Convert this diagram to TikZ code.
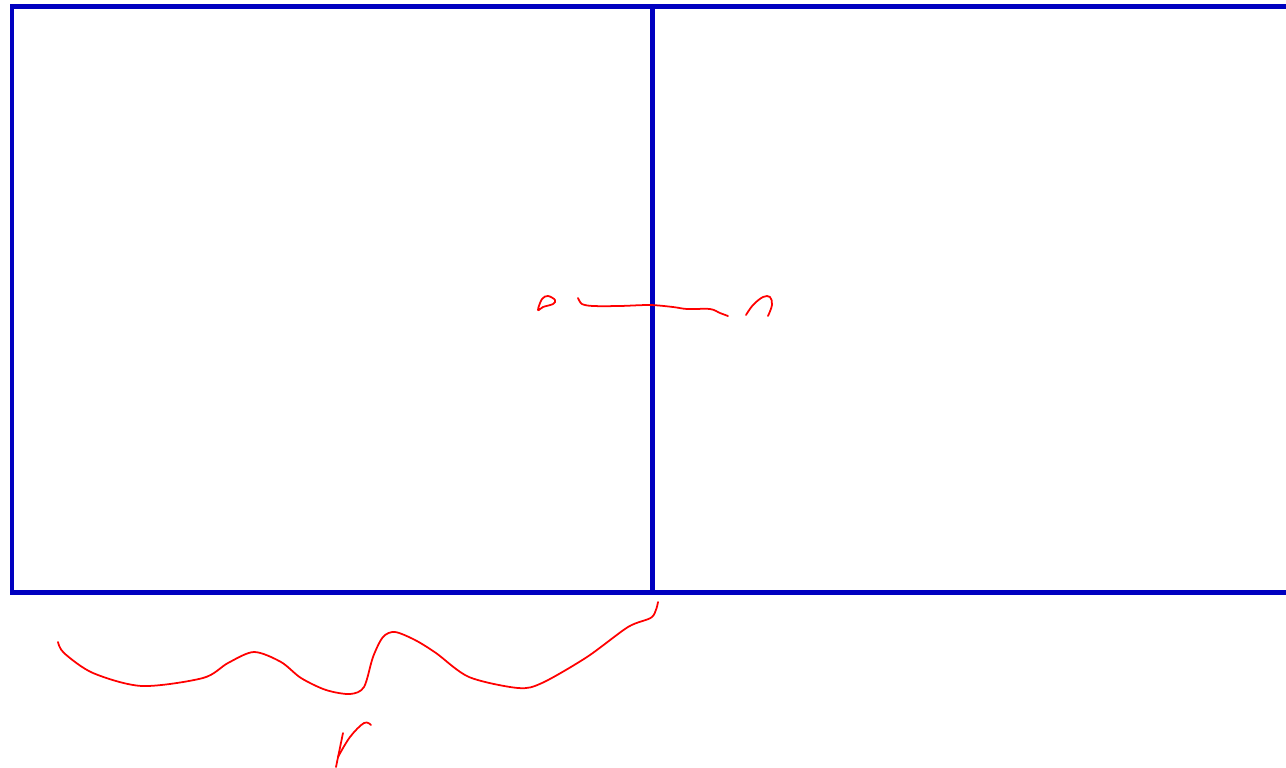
\documentclass[tikz,border=0pt]{standalone}
\usepackage{tikz}
\definecolor{frameblue}{RGB}{0,0,192}

\begin{document}
\begin{tikzpicture}[
    x=0.02cm, y=-0.02cm,
    frame/.style={draw=frameblue, line width=0.1cm, line join=miter},
    ink/.style={draw=red, line width=1pt, line cap=round, line join=round}
]
\useasboundingbox (0,0) rectangle (1286,768);

% Two boxes, the right one running off the page
\coordinate (tl) at (12,6);
\coordinate (bl) at (12,592);
\coordinate (tm) at (652,6);
\coordinate (bm) at (652,592);
\draw[frame] (1290,6) -- (tl) -- (bl) -- (1290,592);
\draw[frame] (tm) -- (bm);

% Handwritten marks across the middle wall
\draw[ink] plot[smooth cycle, tension=0.6] coordinates {(538,310) (542,299) (548,296) (555,300) (553,304) (543,307)};
\draw[ink] plot[smooth, tension=0.5] coordinates {(578,298) (582,304) (593,306) (620,306) (650,305) (673,307) (687,309) (710,309) (720,313) (728,316)};
\draw[ink] plot[smooth, tension=0.6] coordinates {(746,315) (753,305) (763,297) (770,297) (772,305) (768,316)};

% Brace under the left box
\draw[ink] plot[smooth, tension=0.5] coordinates {(58,642) (64,653) (93,673) (142,686) (203,678) (228,663) (254,652) (281,662) (301,678) (326,690) (350,694) (364,687) (373,657) (383,637) (395,632) (415,640) (436,653) (469,677) (518,688) (542,683) (587,657) (628,627) (652,617) (658,602)};

% Letter below the brace
\draw[ink] (336,767) -- (343,733);
\draw[ink] plot[smooth, tension=0.6] coordinates {(338,757) (350,737) (364,723) (371,725)};
\end{tikzpicture}
\end{document}
